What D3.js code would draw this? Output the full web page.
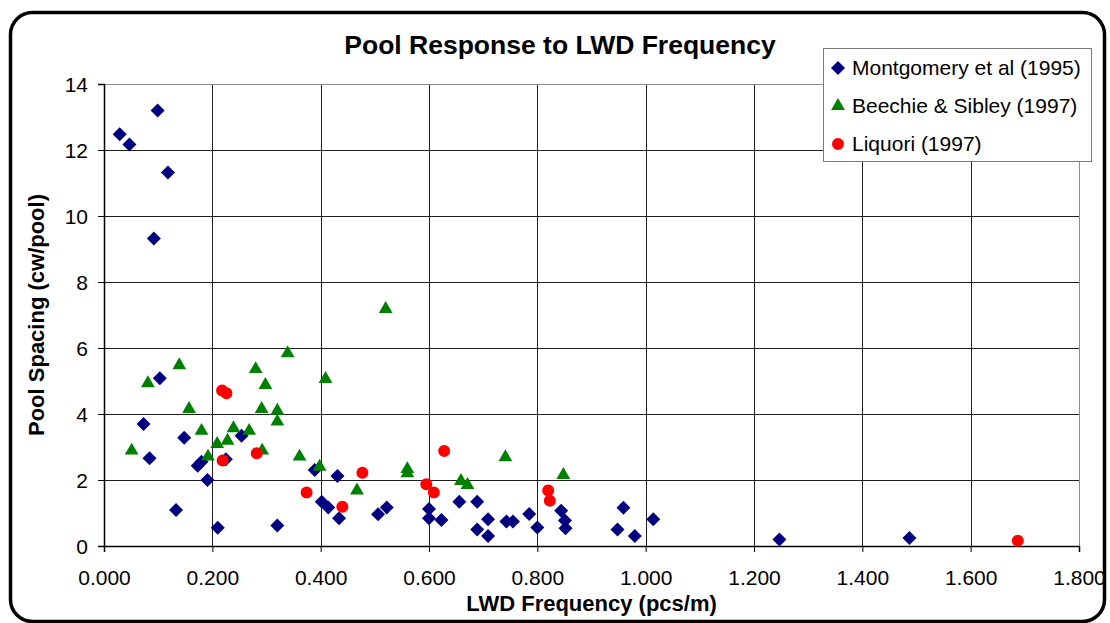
<!doctype html>
<html lang="en-US">
<head>
<meta charset="utf-8">
<title>Pool Response to LWD Frequency</title>
<script src="https://cdn.jsdelivr.net/npm/d3@7/dist/d3.min.js"></script>
<style>
  html, body {
    margin: 0px;
    padding: 0px;
    background: #fff;
  }
  svg {
    display: block;
    font-family: "Liberation Sans", Arial, sans-serif;
  }
</style>
</head>
<body>
<svg id="chart" width="1110" height="623"></svg>

<script>
// pool spacing (channel widths per pool) against wood frequency (pieces per metre)
var montX = [0.029, 0.047, 0.099, 0.118, 0.092, 0.103, 0.073, 0.084, 0.148, 0.133,
             0.173, 0.180, 0.191, 0.210, 0.225, 0.254, 0.320, 0.389, 0.402, 0.414,
             0.431, 0.434, 0.506, 0.522, 0.600, 0.600, 0.623, 0.656, 0.689, 0.689,
             0.709, 0.709, 0.743, 0.755, 0.785, 0.800, 0.844, 0.851, 0.852, 0.948,
             0.959, 0.980, 1.014, 1.247, 1.487];
var montY = [12.48, 12.17, 13.2, 11.32, 9.32, 5.08, 3.70, 2.66, 3.28, 1.09,
             2.43, 2.55, 2.00, 0.55, 2.63, 3.34, 0.62, 2.30, 1.34, 1.17,
             2.12, 0.84, 0.96, 1.17, 1.12, 0.84, 0.79, 1.34, 1.34, 0.50,
             0.81, 0.30, 0.74, 0.74, 0.97, 0.56, 1.07, 0.77, 0.54, 0.50,
             1.16, 0.30, 0.81, 0.20, 0.24];

var beechX = [0.051, 0.081, 0.139, 0.157, 0.180, 0.192, 0.209, 0.228, 0.239, 0.268,
              0.280, 0.291, 0.292, 0.298, 0.320, 0.320, 0.339, 0.361, 0.398, 0.409,
              0.467, 0.520, 0.560, 0.560, 0.659, 0.671, 0.741, 0.848];
var beechY = [2.89, 4.93, 5.48, 4.15, 3.49, 2.71, 3.09, 3.19, 3.57, 3.49,
              5.36, 4.15, 2.89, 4.88, 4.10, 3.77, 5.84, 2.71, 2.40, 5.06,
              1.68, 7.18, 2.33, 2.20, 1.97, 1.85, 2.69, 2.15];

var liqX = [0.218, 0.226, 0.219, 0.282, 0.374, 0.440, 0.477, 0.595, 0.609, 0.628,
            0.820, 0.823, 1.687];
var liqY = [4.71, 4.63, 2.59, 2.81, 1.62, 1.19, 2.22, 1.87, 1.62, 2.88,
            1.68, 1.37, 0.16];

var seriesNames = ["Montgomery et al (1995)", "Beechie & Sibley (1997)", "Liquori (1997)"];
var seriesColors = ["#000080", "#008000", "#ff0000"];

var xTicks = [0, 0.2, 0.4, 0.6, 0.8, 1.0, 1.2, 1.4, 1.6, 1.8];
var yTicks = [0, 2, 4, 6, 8, 10, 12, 14];

var svg = d3.select("#chart");

// rounded frame round the whole chart
svg.append("rect")
  .attr("x", 10.5).attr("y", 12.5)
  .attr("width", 1094).attr("height", 609)
  .attr("rx", 22).attr("ry", 22)
  .attr("fill", "#fff")
  .attr("stroke", "#000")
  .attr("stroke-width", 3.5);

// plot area edges (window.top is taken, so no bare "top")
var plotL = 104, plotR = 1079, plotT = 84, plotB = 546;

var x = d3.scaleLinear().domain([0, 1.8]).range([plotL, plotR]);
var y = d3.scaleLinear().domain([0, 14]).range([plotB, plotT]);

// grid
var grid = svg.append("g");
grid.selectAll("line.gx")
  .data(xTicks.slice(1, -1))
  .enter().append("line")
  .attr("x1", function(d) { return Math.round(x(d)) + 0.5; })
  .attr("x2", function(d) { return Math.round(x(d)) + 0.5; })
  .attr("y1", plotT).attr("y2", plotB)
  .attr("stroke", "#1e1e1e").attr("stroke-width", 1);
grid.selectAll("line.gy")
  .data(yTicks.slice(1, -1))
  .enter().append("line")
  .attr("y1", function(d) { return y(d) + 0.5; })
  .attr("y2", function(d) { return y(d) + 0.5; })
  .attr("x1", plotL).attr("x2", plotR)
  .attr("stroke", "#1e1e1e").attr("stroke-width", 1);

// plot border on top and right is grey
grid.append("line")
  .attr("x1", plotL).attr("x2", plotR + 0.5)
  .attr("y1", plotT + 0.5).attr("y2", plotT + 0.5)
  .attr("stroke", "#8c8c8c");
grid.append("line")
  .attr("x1", plotR + 0.5).attr("x2", plotR + 0.5)
  .attr("y1", plotT).attr("y2", plotB)
  .attr("stroke", "#8c8c8c");

// axes
var xAxis = d3.axisBottom(x)
  .tickValues(xTicks)
  .tickSize(6)
  .tickPadding(18)
  .tickFormat(d3.format(".3f"));
var yAxis = d3.axisLeft(y)
  .tickValues(yTicks)
  .tickSize(6)
  .tickPadding(10)
  .tickFormat(d3.format("d"));

var gx = svg.append("g")
  .attr("transform", "translate(0," + plotB + ")")
  .call(xAxis);
var gy = svg.append("g")
  .attr("transform", "translate(" + plotL + ",0)")
  .call(yAxis);

[gx, gy].forEach(function(g) {
  g.select(".domain").attr("stroke", "#000").attr("stroke-width", 1.5);
  g.selectAll(".tick line").attr("stroke", "#000");
  g.selectAll(".tick text")
    .attr("fill", "#000")
    .attr("font-family", "'Liberation Sans', Arial, sans-serif")
    .attr("font-size", 21);
});
gx.selectAll(".tick text").attr("dy", "0.71em");
gy.selectAll(".tick text").attr("dy", "0.35em");

// titles
svg.append("text")
  .attr("x", 560).attr("y", 54)
  .attr("text-anchor", "middle")
  .attr("font-size", 26.5)
  .attr("font-weight", "bold")
  .text("Pool Response to LWD Frequency");

svg.append("text")
  .attr("x", (plotL + plotR) / 2).attr("y", 611)
  .attr("text-anchor", "middle")
  .attr("font-size", 22)
  .attr("font-weight", "bold")
  .text("LWD Frequency (pcs/m)");

svg.append("text")
  .attr("transform", "translate(44," + ((plotT + plotB) / 2) + ") rotate(-90)")
  .attr("text-anchor", "middle")
  .attr("font-size", 22)
  .attr("font-weight", "bold")
  .text("Pool Spacing (cw/pool)");

// markers: diamond = rotated square, triangle, circle
var shapes = [
  d3.symbol().type(d3.symbolSquare).size(98),
  d3.symbol().type(d3.symbolTriangle).size(82),
  d3.symbol().type(d3.symbolCircle).size(113)
];
var rotations = [45, 0, 0];

function drawSeries(xs, ys, i) {
  var pts = xs.map(function(v, k) { return [v, ys[k]]; });
  svg.append("g").selectAll("path")
    .data(pts)
    .enter().append("path")
    .attr("d", shapes[i])
    .attr("transform", function(d) {
      return "translate(" + x(d[0]) + "," + y(d[1]) + ") rotate(" + rotations[i] + ")";
    })
    .attr("fill", seriesColors[i]);
}

drawSeries(montX, montY, 0);
drawSeries(beechX, beechY, 1);
drawSeries(liqX, liqY, 2);

// legend
var legend = svg.append("g");
legend.append("rect")
  .attr("x", 823.5).attr("y", 48.5)
  .attr("width", 268).attr("height", 113)
  .attr("fill", "#fff")
  .attr("stroke", "#7a7a7a");

var rowY = [68, 106, 144];
seriesNames.forEach(function(name, i) {
  legend.append("path")
    .attr("d", shapes[i])
    .attr("transform", "translate(838," + rowY[i] + ") rotate(" + rotations[i] + ")")
    .attr("fill", seriesColors[i]);
  legend.append("text")
    .attr("x", 852).attr("y", rowY[i] + 7)
    .attr("font-size", 21)
    .text(name);
});
</script>
</body>
</html>
